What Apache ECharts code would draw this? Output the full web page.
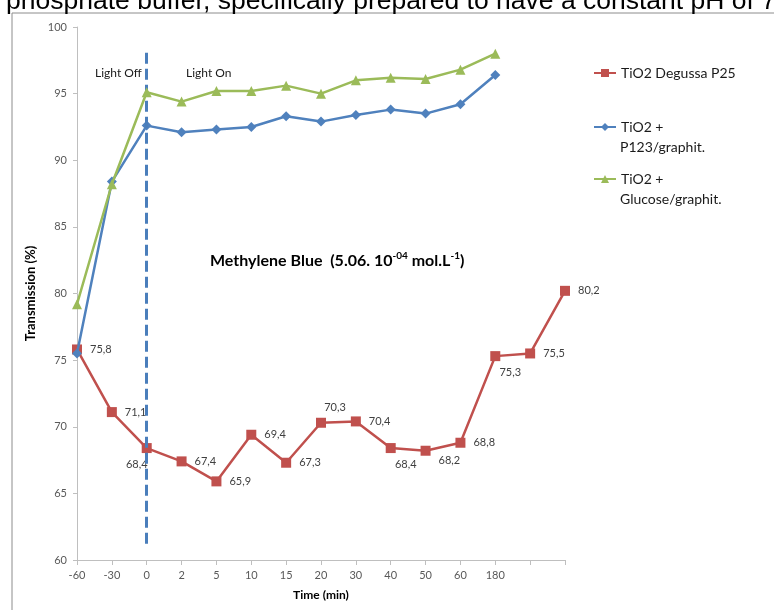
<!DOCTYPE html>
<html>
<head>
<meta charset="utf-8">
<script src="https://cdn.jsdelivr.net/npm/echarts@6/dist/echarts.min.js"></script>
<style>
  html, body { margin: 0; padding: 0; background: #fff; }
  #chart { width: 774px; height: 610px; }
</style>
</head>
<body>
<div id="chart"></div>
<script>
// Sampling times (min); the last two points of the P25 series have no tick label
const timeLabels = ['-60', '-30', '0', '2', '5', '10', '15', '20', '30', '40', '50', '60', '180', '', ' '];

// Transmission (%) for each catalyst
const degussaP25 = [75.8, 71.1, 68.4, 67.4, 65.9, 69.4, 67.3, 70.3, 70.4, 68.4, 68.2, 68.8, 75.3, 75.5, 80.2];
const p123Graphit = [75.5, 88.4, 92.6, 92.1, 92.3, 92.5, 93.3, 92.9, 93.4, 93.8, 93.5, 94.2, 96.4];
const glucoseGraphit = [79.2, 88.2, 95.1, 94.4, 95.2, 95.2, 95.6, 95.0, 96.0, 96.2, 96.1, 96.8, 98.0];

// Y axis range and step
const yMin = 60, yMax = 100, yStep = 5;

const seriesNames = ['TiO2 Degussa P25', 'TiO2 + P123/graphit.', 'TiO2 + Glucose/graphit.'];
// Legend wording, split over lines
const legendLines = [['TiO2 Degussa P25'], ['TiO2 +', 'P123/graphit.'], ['TiO2 +', 'Glucose/graphit.']];

// Placement of each value label on the P25 curve
const p25LabelPlacement = [
  { position: 'right', offset: [2, 0] },
  { position: 'right', offset: [2, 0] },
  { position: 'bottom', offset: [-10, 0] },
  { position: 'right', offset: [2, 0] },
  { position: 'right', offset: [2, 0] },
  { position: 'right', offset: [2, 0] },
  { position: 'right', offset: [2, 0] },
  { position: 'top', offset: [14, 1] },
  { position: 'right', offset: [2, 0] },
  { position: 'bottom', offset: [15, 0] },
  { position: 'right', offset: [2, 10] },
  { position: 'right', offset: [2, 0] },
  { position: 'bottom', offset: [15, 0] },
  { position: 'right', offset: [2, 0] },
  { position: 'right', offset: [2, 0] }
];

const fmtComma = v => v.toFixed(1).replace('.', ',');

const RED = '#c0504d', BLUE = '#4f81bd', GREEN = '#9bbb59';
const FONT = 'Lato';
const LEGEND_LEFT = 588;
const LEGEND_ROWS = [72, 126, 178];   // icon centre of each legend entry
const LEGEND_LINE = 21;

const chart = echarts.init(document.getElementById('chart'), null, { renderer: 'canvas' });

// One legend block per series; the first line sits next to the icon
const legends = seriesNames.map((name, i) => ({
  data: [name],
  left: LEGEND_LEFT,
  top: LEGEND_ROWS[i] - 11,
  itemWidth: 22,
  itemHeight: 10,
  selectedMode: false,
  formatter: () => legendLines[i][0],
  textStyle: { fontFamily: FONT, fontSize: 14, color: '#1a1a1a' }
}));

// Continuation lines of the wrapped legend entries
const legendExtra = [];
legendLines.forEach((lines, i) => {
  lines.slice(1).forEach((t, j) => {
    legendExtra.push({
      type: 'text',
      silent: true,
      x: LEGEND_LEFT + 5 + 22 + 5,
      y: LEGEND_ROWS[i] + LEGEND_LINE * (j + 1),
      style: { text: t, font: '14px Lato', fill: '#1a1a1a', verticalAlign: 'middle' }
    });
  });
});

chart.setOption({
  animation: false,
  backgroundColor: '#ffffff',
  grid: { left: 77, right: 209, top: 27, bottom: 50 },
  legend: legends,
  xAxis: {
    type: 'category',
    data: timeLabels,
    boundaryGap: false,
    name: 'Time (min)',
    nameLocation: 'middle',
    nameGap: 29,
    nameTextStyle: { fontFamily: FONT, fontSize: 12, fontWeight: 'bold', color: '#000' },
    axisLine: { lineStyle: { color: '#bfbfbf', width: 1 } },
    axisTick: { show: true, length: 5, interval: 0, lineStyle: { color: '#bfbfbf' } },
    axisLabel: { interval: 0, margin: 10, fontFamily: FONT, fontSize: 11, color: '#595959' },
    splitLine: { show: false }
  },
  yAxis: {
    type: 'value',
    min: yMin,
    max: yMax,
    interval: yStep,
    name: 'Transmission (%)',
    nameLocation: 'middle',
    nameGap: 36,
    nameTextStyle: { fontFamily: FONT, fontSize: 13, fontWeight: 'bold', color: '#000' },
    axisLine: { show: true, lineStyle: { color: '#bfbfbf', width: 1 } },
    axisTick: { show: true, length: 4, lineStyle: { color: '#bfbfbf' } },
    axisLabel: { margin: 10, fontFamily: FONT, fontSize: 11, color: '#595959' },
    splitLine: { show: false }
  },
  series: [
    {
      name: seriesNames[0],
      type: 'line',
      data: degussaP25.map((v, i) => ({
        value: v,
        label: p25LabelPlacement[i]
      })),
      symbol: 'rect',
      symbolSize: 10,
      lineStyle: { color: RED, width: 2.5 },
      itemStyle: { color: RED },
      label: {
        show: true,
        distance: 6,
        formatter: p => fmtComma(p.value),
        fontFamily: FONT, fontSize: 11, color: '#404040'
      },
      z: 3
    },
    {
      name: seriesNames[1],
      type: 'line',
      data: p123Graphit,
      symbol: 'diamond',
      symbolSize: 10,
      lineStyle: { color: BLUE, width: 2.5 },
      itemStyle: { color: BLUE },
      z: 4,
      markLine: {
        silent: true,
        symbol: 'none',
        label: { show: false },
        lineStyle: { color: '#4a7ebb', width: 3, type: [11, 5] },
        data: [[{ coord: ['0', 98.07] }, { coord: ['0', 61.13] }]]
      }
    },
    {
      name: seriesNames[2],
      type: 'line',
      data: glucoseGraphit,
      symbol: 'triangle',
      symbolSize: 10,
      lineStyle: { color: GREEN, width: 2.5 },
      itemStyle: { color: GREEN },
      z: 5
    }
  ],
  graphic: [
    {
      type: 'rect',
      silent: true,
      shape: { x: 12, y: 13, width: 900, height: 800 },
      style: { fill: 'none', stroke: '#8c8c8c', lineWidth: 1 }
    },
    {
      type: 'text',
      silent: true,
      x: 6, y: 2,
      style: {
        text: 'phosphate buffer, specifically prepared to have a constant pH of 7',
        font: '26.5px "Liberation Sans", Arial, sans-serif',
        fill: '#000',
        verticalAlign: 'middle'
      }
    },
    {
      type: 'text',
      silent: true,
      x: 95, y: 73,
      style: { text: 'Light Off', font: '12px Lato', fill: '#1a1a1a', verticalAlign: 'middle' }
    },
    {
      type: 'text',
      silent: true,
      x: 186, y: 73,
      style: { text: 'Light On', font: '12px Lato', fill: '#1a1a1a', verticalAlign: 'middle' }
    },
    {
      type: 'text',
      silent: true,
      x: 210, y: 260,
      style: {
        text: '{b|Methylene Blue  (5.06. 10}{s|-04}{b| mol.L}{s|-1}{b|)}',
        verticalAlign: 'middle',
        rich: {
          b: { fontFamily: FONT, fontSize: 16, fontWeight: 'bold', fill: '#000', verticalAlign: 'bottom', lineHeight: 18 },
          s: { fontFamily: FONT, fontSize: 10, fontWeight: 'bold', fill: '#000', verticalAlign: 'top', lineHeight: 18 }
        }
      }
    }
  ].concat(legendExtra)
});
</script>
</body>
</html>
